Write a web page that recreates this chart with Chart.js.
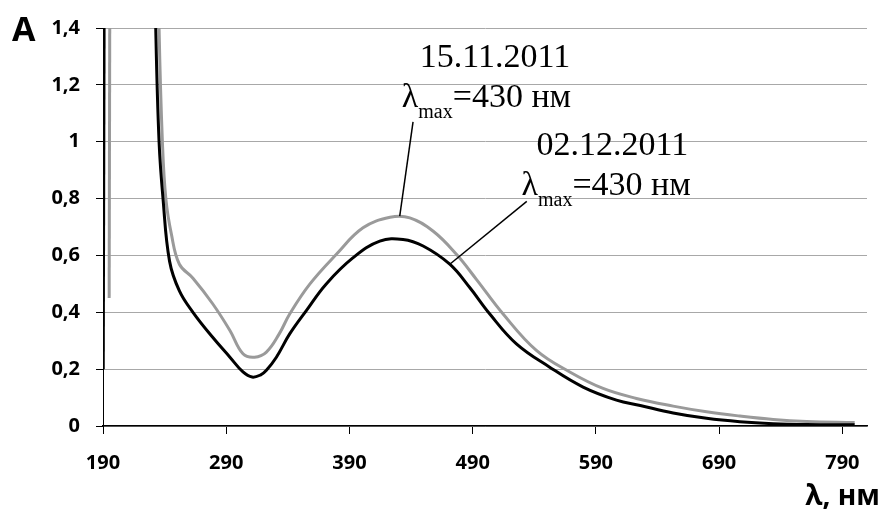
<!DOCTYPE html>
<html>
<head>
<meta charset="utf-8">
<script src="https://cdn.jsdelivr.net/npm/chart.js@4"></script>
<style>
  body { margin: 0; background: #fff; }
  canvas { display: block; }
</style>
</head>
<body>
<canvas id="spectrumChart" width="884" height="509"></canvas>
<script>
// wavelengths (nm) and absorbance
// the narrow spikes at the left edge go off scale, kept apart so they stay straight
const spikeBlackX = [190.2, 191.5];
const spikeBlackY = [0.20, 2.5];
const spikeGreyX = [195, 196];
const spikeGreyY = [0.45, 2.5];

const wlBlack = [228, 232.8, 235.5, 238.7, 244, 252, 263, 279, 293, 303.6, 311, 318, 322.6, 330.7, 341.5, 355, 371, 393, 414.6, 433.5, 449.8, 471.4, 487.6, 503.9, 525.5, 552.5, 579.6, 606.7, 626, 652.7, 679.8, 706.8, 733.9, 761, 800];
const absBlack = [2.5, 1.40, 1.00, 0.80, 0.58, 0.475, 0.40, 0.312, 0.242, 0.19, 0.172, 0.18, 0.196, 0.242, 0.324, 0.406, 0.499, 0.592, 0.650, 0.656, 0.633, 0.569, 0.487, 0.394, 0.289, 0.207, 0.137, 0.091, 0.072, 0.046, 0.027, 0.015, 0.008, 0.005, 0.004];

const wlGrey = [231, 235.5, 238.2, 241, 245.5, 252, 263, 279, 293, 303.6, 313, 322.6, 333, 341.5, 357.8, 379.4, 401, 423, 439, 458, 476.8, 493, 514.7, 541.7, 568.8, 595.8, 622.9, 652.7, 679.8, 706.8, 733.9, 761, 800];
const absGrey = [2.5, 1.40, 1.00, 0.80, 0.675, 0.569, 0.52, 0.43, 0.336, 0.254, 0.242, 0.26, 0.324, 0.394, 0.499, 0.604, 0.697, 0.734, 0.732, 0.685, 0.604, 0.516, 0.394, 0.266, 0.19, 0.132, 0.097, 0.070, 0.050, 0.035, 0.023, 0.016, 0.012];

const xTicks = [190, 290, 390, 490, 590, 690, 790];
const yTicks = [0, 0.2, 0.4, 0.6, 0.8, 1, 1.2, 1.4];

// callouts: date, label anchor and leader line, in data units
const notes = [
    { date: '15.11.2011', dateAt: [447, 1.262], lamAt: [432.5, 1.122], line: [[441.6, 1.070], [430.8, 0.738]] },
    { date: '02.12.2011', dateAt: [541.8, 0.953], lamAt: [529.6, 0.814], line: [[533.9, 0.790], [471.4, 0.569]] }
];

const toPoints = (xs, ys) => xs.map((x, i) => ({ x: x, y: ys[i] }));

const calloutPlugin = {
    id: 'callouts',
    afterDraw(chart) {
        const c = chart.ctx;
        const xs = chart.scales.x, ys = chart.scales.y;
        const px = v => xs.getPixelForValue(v), py = v => ys.getPixelForValue(v);
        c.save();
        c.fillStyle = '#000';
        c.strokeStyle = '#000';
        c.lineWidth = 1.5;
        c.textBaseline = 'alphabetic';
        c.textAlign = 'left';
        notes.forEach(n => {
            c.beginPath();
            c.moveTo(px(n.line[0][0]), py(n.line[0][1]));
            c.lineTo(px(n.line[1][0]), py(n.line[1][1]));
            c.stroke();

            c.font = '34px "Liberation Serif"';
            c.fillText(n.date, px(n.dateAt[0]), py(n.dateAt[1]));

            let x = px(n.lamAt[0]);
            const y = py(n.lamAt[1]);
            c.fillText('λ', x, y);
            x += c.measureText('λ').width;
            c.font = '20px "Liberation Serif"';
            c.fillText('max', x, y + 11);
            x += c.measureText('max').width;
            c.font = '34px "Liberation Serif"';
            c.fillText('=430 нм', x, y);
        });

        // axis names
        c.font = 'bold 34px "Open Sans"';
        c.fillText('A', 12, 41);
        c.font = 'bold 28px "Open Sans"';
        c.textAlign = 'right';
        c.fillText('λ, нм', 880, 505);
        c.restore();
    }
};

const tickFont = { family: 'Open Sans', size: 20, weight: 'bold' };

const lineStyle = (color, tension) => ({
    borderColor: color,
    borderWidth: 3,
    pointRadius: 0,
    tension: tension,
    fill: false
});

new Chart(document.getElementById('spectrumChart').getContext('2d'), {
    type: 'line',
    data: {
        datasets: [
            Object.assign({ label: '02.12.2011', data: toPoints(spikeBlackX, spikeBlackY) }, lineStyle('#000000', 0)),
            Object.assign({ label: '02.12.2011', data: toPoints(wlBlack, absBlack) }, lineStyle('#000000', 0.4)),
            Object.assign({ label: '15.11.2011', data: toPoints(spikeGreyX, spikeGreyY) }, lineStyle('#9a9a9a', 0)),
            Object.assign({ label: '15.11.2011', data: toPoints(wlGrey, absGrey) }, lineStyle('#9a9a9a', 0.4))
        ]
    },
    options: {
        responsive: false,
        animation: false,
        events: [],
        layout: { padding: { left: 0, top: 25, right: 17, bottom: 0 } },
        plugins: { legend: { display: false }, tooltip: { enabled: false } },
        scales: {
            x: {
                type: 'linear',
                min: 190,
                max: 810,
                afterBuildTicks: s => { s.ticks = xTicks.map(v => ({ value: v })); },
                afterFit: s => { s.height = 83; },
                grid: { drawOnChartArea: false, tickLength: 8, tickColor: '#000', tickWidth: 1 },
                border: { color: '#000', width: 1.5 },
                ticks: { color: '#000', font: tickFont, padding: 17, maxRotation: 0 }
            },
            y: {
                min: 0,
                max: 1.4,
                afterBuildTicks: s => { s.ticks = yTicks.map(v => ({ value: v })); },
                afterFit: s => { s.width = 103; },
                grid: { color: '#a8a8a8', lineWidth: 1, tickLength: 7, tickColor: '#000' },
                border: { color: '#000', width: 1 },
                ticks: {
                    color: '#000',
                    font: tickFont,
                    padding: 16,
                    callback: v => String(Math.round(v * 10) / 10).replace('.', ',')
                }
            }
        }
    },
    plugins: [calloutPlugin]
});
</script>
</body>
</html>
